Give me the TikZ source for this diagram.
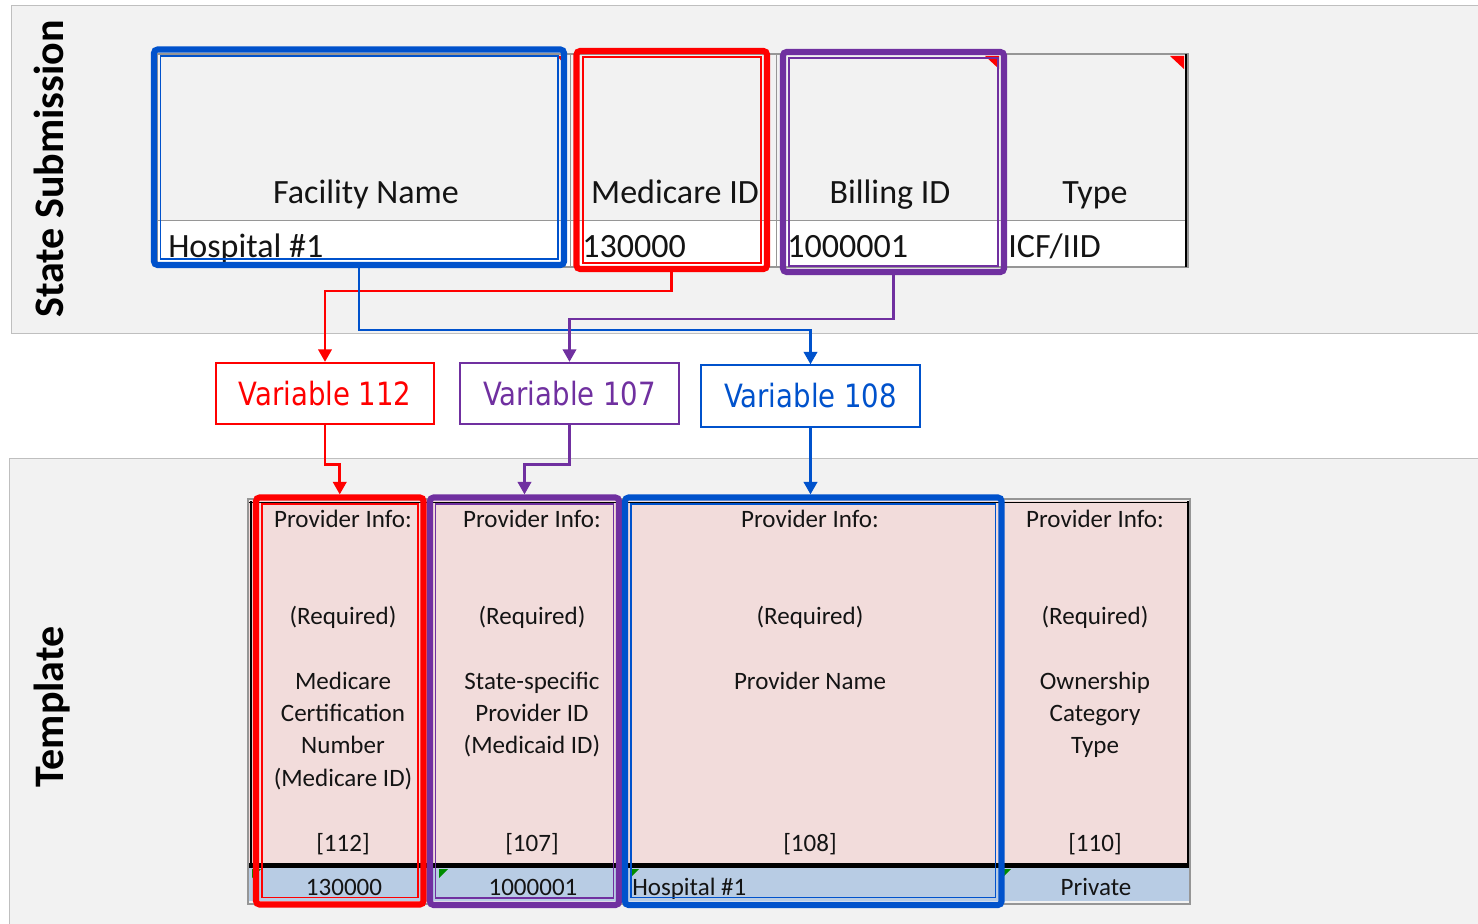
\documentclass[tikz,border=0pt]{standalone}
\usepackage{fontspec}
\setmainfont{Carlito}
\newfontfamily\varfont[FakeStretch=0.86]{DejaVu Sans}
\usetikzlibrary{arrows.meta,fit}
\definecolor{subred}{RGB}{255,0,0}
\definecolor{subblue}{RGB}{0,82,204}
\definecolor{subpurple}{RGB}{112,48,160}
\definecolor{panelgray}{RGB}{242,242,242}
\definecolor{panelline}{RGB}{191,191,191}
\definecolor{gridgray}{RGB}{150,150,150}
\definecolor{hdpink}{RGB}{242,220,219}
\definecolor{rowblue}{RGB}{184,204,228}
\definecolor{notegreen}{RGB}{0,140,0}

\begin{document}
\begin{tikzpicture}[x=0.25cm,y=0.25cm,
  selbox/.style={draw=#1, line width=4.3pt, rounded corners=2.5pt, inner sep=0pt},
  thinbox/.style={draw=#1, line width=0.8pt, inner sep=0pt},
  varbox/.style={draw=#1, text=#1, line width=1.4pt, fill=white, minimum width=5.46cm,
    minimum height=1.53cm, inner sep=0pt, font=\varfont\fontsize{22.8}{27}\selectfont},
  link/.style={draw=#1, line width=2.1pt, -{Triangle[length=9pt,width=9.5pt]}},
  hdtext/.style={inner sep=0pt, font=\fontsize{24.2}{29}\selectfont, text=black!92},
  tptext/.style={inner sep=0pt, font=\fontsize{17.8}{23}\selectfont, text=black!92},
  panellabel/.style={rotate=90, anchor=base, inner sep=0pt, font=\bfseries\fontsize{29.9}{36}\selectfont}]
\useasboundingbox (0,0) rectangle (147.8,-92.4);
\fill[white] (0,0) rectangle (147.8,-92.4);
\fill[panelgray] (1.1,-0.5) rectangle (147.8,-33.3);
\draw[panelline] (147.8,-0.5) -- (1.1,-0.5) -- (1.1,-33.3) -- (147.8,-33.3);
\fill[panelgray] (0.9,-45.8) rectangle (147.8,-92.4);
\draw[panelline] (147.8,-45.8) -- (0.9,-45.8) -- (0.9,-92.4);
\node[panellabel] (sublabel) at (6.3,-16.9) {State Submission};
\node[panellabel] (tpllabel) at (6.3,-70.7) {Template};

% state submission sheet
\fill[white] (15.7,-22.0) rectangle (118.8,-26.7);
\draw[gridgray, line width=1.2pt] (15.7,-5.4) rectangle (118.8,-26.7);
\draw[gridgray] (15.7,-22.0) -- (118.8,-22.0);
\foreach \cx in {57.0,77.6,100.4}
  \draw[gridgray] (\cx,-5.4) -- (\cx,-26.7);
\draw[black, line width=1.5pt] (118.6,-5.4) -- (118.6,-26.7);
\fill[subred] (56.6,-5.6) -- ++(-0.9,0) -- ++(0.9,-1.0) -- cycle;
\foreach \cx in {99.9,118.4}
  \fill[subred] (\cx,-5.6) -- ++(-1.4,0) -- ++(1.4,-1.3) -- cycle;
\node[hdtext, anchor=base] (facname) at (36.6,-20.4) {Facility Name};
\node[hdtext, anchor=base] (medid) at (67.5,-20.4) {Medicare ID};
\node[hdtext, anchor=base] (billid) at (89.0,-20.4) {Billing ID};
\node[hdtext, anchor=base] (typehd) at (109.5,-20.4) {Type};
\node[hdtext, anchor=base west] (facval) at (16.8,-25.7) {Hospital \#1};
\node[hdtext, anchor=base west] (medval) at (58.2,-25.7) {130000};
\node[hdtext, anchor=base west] (billval) at (78.7,-25.7) {1000001};
\node[hdtext, anchor=base west] (typeval) at (100.8,-25.7) {ICF/IID};

\node[selbox=subblue, fit={(15.4,-4.95) (56.4,-26.5)}] (facbox) {};
\node[thinbox=subblue, fit={(16.05,-5.6) (55.8,-25.9)}] (facin) {};
\node[selbox=subred, fit={(57.65,-5.1) (76.7,-26.9)}] (medbox) {};
\node[thinbox=subred, fit={(58.3,-5.7) (76.1,-26.3)}] (medin) {};
\node[selbox=subpurple, fit={(78.3,-5.2) (100.4,-27.2)}] (billbox) {};
\node[thinbox=subpurple, fit={(78.9,-5.8) (99.8,-26.6)}] (billin) {};

% variables
\node[varbox=subred] (var112) at (32.5,-39.35) {Variable 112};
\node[varbox=subpurple] (var107) at (56.95,-39.35) {Variable 107};
\node[varbox=subblue] (var108) at (81.05,-39.6) {Variable 108};

% template sheet
\fill[hdpink] (24.9,-50.1) rectangle (118.9,-86.4);
\fill[rowblue] (24.9,-86.8) rectangle (118.9,-90.1);
\foreach \cx in {25.1,43.0,62.3,100.1,118.8}
  \draw[black, line width=1pt] (\cx,-50.1) -- (\cx,-86.4);
\draw[black] (24.9,-50.2) -- (118.9,-50.2);
\draw[black, line width=3.5pt] (24.9,-86.55) -- (118.9,-86.55);
\draw[gridgray, line width=1.5pt] (24.8,-49.9) rectangle (119.0,-90.4);
\foreach \cx in {25.2,43.9,63.0,100.2}
  \fill[notegreen] (\cx,-86.9) -- ++(0.9,0) -- ++(-0.9,-0.9) -- cycle;

\foreach \cx/\nm in {34.3/a,53.2/b,81.0/c,109.5/d} {
  \node[tptext, anchor=base] (info\nm) at (\cx,-52.7) {Provider Info:};
  \node[tptext, anchor=base] (req\nm) at (\cx,-62.4) {(Required)};
}
\foreach \ln [count=\k] in {Medicare,Certification,Number,(Medicare ID)}
  \node[tptext, anchor=base] (texta\k) at (34.3,{-68.9-3.24*(\k-1)}) {\ln};
\foreach \ln [count=\k] in {State-specific,Provider ID,(Medicaid ID)}
  \node[tptext, anchor=base] (textb\k) at (53.2,{-68.9-3.24*(\k-1)}) {\ln};
\node[tptext, anchor=base] (textc1) at (81.0,-68.9) {Provider Name};
\foreach \ln [count=\k] in {Ownership,Category,Type}
  \node[tptext, anchor=base] (textd\k) at (109.5,{-68.9-3.24*(\k-1)}) {\ln};
\node[tptext, anchor=base] (ida) at (34.3,-85.1) {[112]};
\node[tptext, anchor=base] (idb) at (53.2,-85.1) {[107]};
\node[tptext, anchor=base] (idc) at (81.0,-85.1) {[108]};
\node[tptext, anchor=base] (idd) at (109.5,-85.1) {[110]};
\node[tptext, anchor=base] (vala) at (34.4,-89.5) {130000};
\node[tptext, anchor=base] (valb) at (53.3,-89.5) {1000001};
\node[tptext, anchor=base west] (valc) at (63.2,-89.5) {Hospital \#1};
\node[tptext, anchor=base] (vald) at (109.6,-89.5) {Private};

\node[selbox=subred, fit={(25.6,-49.75) (42.35,-90.45)}] (c112box) {};
\node[thinbox=subred, fit={(26.2,-50.4) (41.8,-89.75)}] (c112in) {};
\node[selbox=subpurple, fit={(43.0,-49.75) (61.9,-90.5)}] (c107box) {};
\node[thinbox=subpurple, fit={(43.55,-50.4) (61.35,-89.8)}] (c107in) {};
\node[selbox=subblue, fit={(62.5,-49.75) (100.15,-90.5)}] (c108box) {};
\node[thinbox=subblue, fit={(63.1,-50.4) (99.55,-89.75)}] (c108in) {};

% links
\draw[link=subred] (medbox.south) -- ++(0,-1.9) -| (var112.north);
\draw[link=subblue] (facbox.south) -- ++(0,-6.2) -| (var108.north);
\draw[link=subpurple] (billbox.south) -- ++(0,-4.4) -| (var107.north);
\draw[link=subred] (var112.south) -- ++(0,-3.9) -| (c112box.north);
\draw[link=subpurple] (var107.south) -- ++(0,-3.9) -| (c107box.north);
\draw[link=subblue] (var108.south) -- (var108.south |- c108box.north);
\end{tikzpicture}
\end{document}
